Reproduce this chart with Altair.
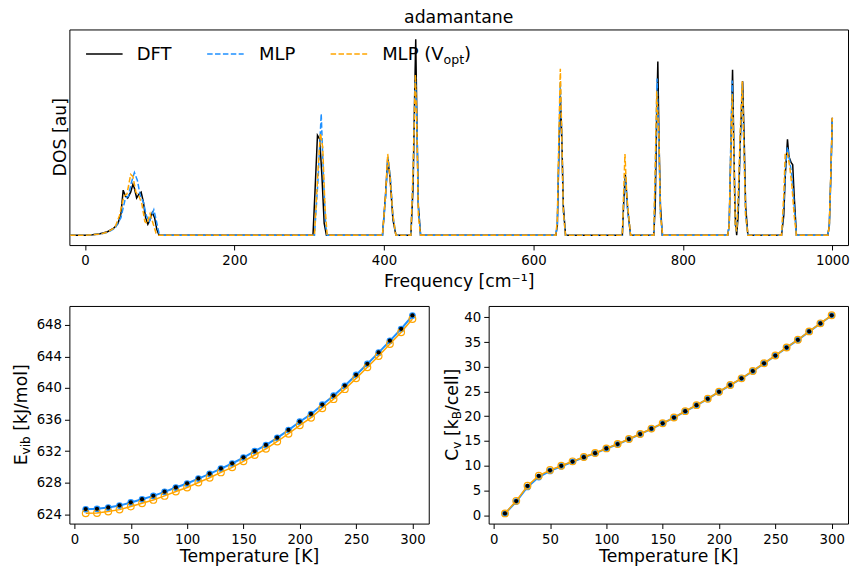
import altair as alt
import pandas as pd

# ---------------- DOS data (top panel) ----------------
dft_freq = [-20, 0, 10, 20, 30, 38, 44, 48, 51, 54, 57, 61, 64, 66, 69, 72, 75, 78, 81, 84, 87, 90, 93, 96, 99,
            305, 308, 311, 314, 317, 320, 323,
            398, 402, 405, 408, 412, 416,
            436, 439, 441, 442.5, 444, 446, 449,
            630, 632, 634, 636, 638, 640, 643,
            719, 721, 723, 726, 730,
            761, 763, 765, 766.5, 768, 770, 772.5,
            860, 862, 864, 866.5, 868, 870, 872, 874, 877, 880, 882, 884, 887,
            932, 935, 937, 940, 942, 945, 947, 949, 952,
            994, 996, 998, 1000]
dft_dos = [0, 0, 0.003, 0.008, 0.018, 0.035, 0.06, 0.11, 0.23, 0.2, 0.19, 0.22, 0.26, 0.24, 0.19, 0.21, 0.22, 0.17, 0.09, 0.056, 0.08, 0.116, 0.09, 0.03, 0,
           0, 0.25, 0.51, 0.49, 0.3, 0.06, 0,
           0, 0.2, 0.39, 0.3, 0.08, 0,
           0, 0.25, 0.7, 1.0, 0.6, 0.15, 0,
           0, 0.05, 0.4, 0.71, 0.5, 0.15, 0,
           0, 0.18, 0.31, 0.14, 0,
           0, 0.15, 0.6, 0.887, 0.5, 0.15, 0,
           0, 0.05, 0.4, 0.845, 0.5, 0.1, 0, 0.1, 0.5, 0.786, 0.5, 0.15, 0,
           0, 0.1, 0.3, 0.49, 0.4, 0.37, 0.36, 0.2, 0,
           0, 0.05, 0.3, 0.6]

mlp_freq = [-20, 0, 20, 30, 40, 48, 54, 58, 62, 66, 70, 74, 78, 82, 86, 89, 92, 95, 99, 102,
            307, 312, 316, 319, 322, 324,
            398, 402, 405.5, 409, 412, 416,
            436, 439, 442, 444, 446, 449,
            630, 632, 634, 636, 638, 640, 643,
            719, 721, 723, 726, 730,
            761, 763, 765.5, 768, 770, 773,
            860, 862, 864, 866, 868, 870, 872, 874, 877, 879.5, 882, 884, 887,
            932, 935, 937.5, 940, 943, 946, 949, 952,
            994, 996, 998, 1000]
mlp_dos = [0, 0, 0.006, 0.015, 0.035, 0.09, 0.19, 0.2, 0.27, 0.32, 0.28, 0.2, 0.17, 0.1, 0.07, 0.1, 0.13, 0.08, 0.01, 0,
           0, 0.3, 0.62, 0.3, 0.05, 0,
           0, 0.18, 0.40, 0.28, 0.1, 0,
           0, 0.3, 0.81, 0.6, 0.15, 0,
           0, 0.06, 0.45, 0.78, 0.5, 0.12, 0,
           0, 0.2, 0.3, 0.13, 0,
           0, 0.3, 0.8, 0.45, 0.1, 0,
           0, 0.05, 0.45, 0.79, 0.5, 0.05, 0.02, 0.15, 0.5, 0.77, 0.4, 0.1, 0,
           0, 0.15, 0.35, 0.45, 0.38, 0.3, 0.15, 0,
           0, 0.05, 0.3, 0.58]

vopt_freq = [-20, 0, 20, 30, 40, 46, 52, 56, 61, 64, 68, 72, 76, 80, 83, 87, 91, 95, 99,
             307, 312, 315, 318, 321, 324,
             398, 402, 405, 408, 412, 416,
             436, 439, 442, 444, 446, 449,
             630, 632, 634, 636, 638, 640, 643,
             719, 721, 722.5, 725, 730,
             761, 763, 765, 768, 770, 773,
             860, 862, 864, 866, 868, 870, 872, 874, 877, 879.5, 882, 884, 887,
             932, 935, 937, 940, 943, 946, 949, 952,
             994, 996, 998, 1000]
vopt_dos = [0, 0, 0.006, 0.016, 0.04, 0.1, 0.2, 0.21, 0.31, 0.3, 0.22, 0.2, 0.16, 0.07, 0.06, 0.11, 0.06, 0.01, 0,
            0, 0.35, 0.52, 0.45, 0.15, 0,
            0, 0.2, 0.415, 0.3, 0.1, 0,
            0, 0.35, 0.82, 0.55, 0.1, 0,
            0, 0.08, 0.5, 0.85, 0.5, 0.12, 0,
            0, 0.25, 0.415, 0.2, 0,
            0, 0.35, 0.735, 0.5, 0.1, 0,
            0, 0.05, 0.4, 0.72, 0.45, 0.05, 0.02, 0.2, 0.55, 0.785, 0.4, 0.1, 0,
            0, 0.2, 0.42, 0.42, 0.35, 0.25, 0.1, 0,
            0, 0.05, 0.32, 0.6]

# ---------------- thermodynamics (bottom panels) ----------------
temps = [10, 20, 30, 40, 50, 60, 70, 80, 90, 100, 110, 120, 130, 140, 150,
         160, 170, 180, 190, 200, 210, 220, 230, 240, 250, 260, 270, 280, 290, 300]
evib_dft = [624.64, 624.68, 624.85, 625.1, 625.5, 625.9, 626.33, 626.84, 627.39, 627.9, 628.53, 629.13, 629.8, 630.44, 631.2,
            632.0, 632.77, 633.7, 634.68, 635.74, 636.7, 637.9, 639.04, 640.3, 641.67, 643.07, 644.5, 646.0, 647.5, 649.2]
evib_mlp = [624.62, 624.67, 624.83, 625.08, 625.48, 625.88, 626.31, 626.82, 627.37, 627.88, 628.51, 629.11, 629.78, 630.42, 631.18,
            631.98, 632.75, 633.68, 634.66, 635.72, 636.68, 637.88, 639.02, 640.28, 641.65, 643.05, 644.48, 645.98, 647.48, 649.18]
evib_vopt = [624.1, 624.15, 624.32, 624.57, 624.97, 625.37, 625.8, 626.31, 626.86, 627.38, 628.01, 628.61, 629.29, 629.93, 630.7,
             631.5, 632.28, 633.21, 634.2, 635.26, 636.23, 637.43, 638.58, 639.85, 641.22, 642.63, 644.06, 645.57, 647.07, 648.75]
cv_dft = [0.34, 2.85, 5.9, 7.93, 9.08, 9.97, 10.85, 11.73, 12.54, 13.49, 14.37, 15.39, 16.41, 17.49, 18.58,
          19.73, 21.02, 22.24, 23.53, 24.95, 26.31, 27.66, 29.15, 30.71, 32.27, 33.9, 35.46, 37.15, 38.78, 40.4]
cv_mlp = [0.3, 2.75, 5.7, 7.7, 8.95, 9.9, 10.8, 11.7, 12.5, 13.45, 14.33, 15.35, 16.38, 17.46, 18.55,
          19.7, 20.99, 22.21, 23.5, 24.92, 26.28, 27.63, 29.12, 30.68, 32.24, 33.87, 35.43, 37.12, 38.75, 40.37]
cv_vopt = [0.36, 2.9, 5.95, 7.98, 9.12, 10.0, 10.88, 11.75, 12.56, 13.5, 14.38, 15.4, 16.42, 17.5, 18.59,
           19.74, 21.03, 22.25, 23.54, 24.96, 26.32, 27.67, 29.16, 30.72, 32.28, 33.91, 35.47, 37.16, 38.79, 40.41]

freq_ticks = [0, 200, 400, 600, 800, 1000]
temp_ticks = [0, 50, 100, 150, 200, 250, 300]
evib_ticks = [624, 628, 632, 636, 640, 644, 648]
cv_ticks = [0, 5, 10, 15, 20, 25, 30, 35, 40]

# ---------------- styling ----------------
FONT = "DejaVu Sans"
BIG = 17.3
SUB = 12.1
LEG = 18.0
LEGSUB = 12.6
BLUE = "#1E90FF"
ORANGE = "#FFA500"
DASH = [5.5, 2.4]
SPACE = 5.5
one = pd.DataFrame({"k": [0]})


def txt(s, x, y, size=BIG, angle=0, align="left"):
    return alt.Chart(one).mark_text(text=s, font=FONT, fontSize=size, color="black",
                                    align=align, baseline="alphabetic", angle=angle).encode(
        x=alt.value(x), y=alt.value(y))


# ---------------- top panel ----------------
fx = alt.X("f:Q", scale=alt.Scale(domain=[-21, 1021], nice=False, zero=False),
           axis=alt.Axis(values=freq_ticks, format="d", title="Frequency [cm⁻¹]",
                         titleY=41.3, titleBaseline="alphabetic", labelPadding=4))
fy = alt.Y("d:Q", scale=alt.Scale(domain=[-0.05, 1.05], nice=False, zero=False), axis=None)


def dos_line(freq, dos, color, dash=None):
    df = pd.DataFrame({"f": freq, "d": dos})
    kw = dict(color=color, strokeWidth=1.5, clip=True)
    if dash:
        kw["strokeDash"] = dash
    return alt.Chart(df).mark_line(**kw).encode(x=fx, y=fy, order="f:Q")


def leg_rule(x1, x2, y, color, dash=None):
    kw = dict(color=color, strokeWidth=1.5)
    if dash:
        kw["strokeDash"] = dash
    return alt.Chart(one).mark_rule(**kw).encode(x=alt.value(x1), x2=alt.value(x2), y=alt.value(y))


TW = 780
top = alt.layer(
    dos_line(dft_freq, dft_dos, "black"),
    dos_line(mlp_freq, mlp_dos, BLUE, DASH),
    dos_line(vopt_freq, vopt_dos, ORANGE, DASH),
    leg_rule(16.7, 53.3, 24.7, "black"),
    txt("DFT", 67.5, 31, LEG),
    leg_rule(138, 174.6, 24.7, BLUE, DASH),
    txt("MLP", 190, 31, LEG),
    leg_rule(261.7, 298.3, 24.7, ORANGE, DASH),
    txt("MLP (V", 313.3, 31, LEG),
    txt("opt", 313.3 + 61.5, 34.7, LEGSUB),
    txt(")", 313.3 + 61.5 + 20.6, 31, LEG),
    txt("adamantane", TW / 2, -6.3, align="center"),
    txt("DOS [au]", -3.5, 108, angle=270, align="center"),
).properties(width=TW, height=216)

# ---------------- bottom panels ----------------
tx = alt.X("T:Q", scale=alt.Scale(domain=[-4.5, 314.5], nice=False, zero=False),
           axis=alt.Axis(values=temp_ticks, format="d", title="Temperature [K]",
                         titleY=38.3, titleBaseline="alphabetic", labelPadding=4))


def thermo_layers(vals_mlp, vals_vopt, vals_dft, ydom, yticks):
    vy = alt.Y("v:Q", scale=alt.Scale(domain=ydom, nice=False, zero=False),
               axis=alt.Axis(values=yticks, format="d", title=None, labelPadding=3))
    dm = pd.DataFrame({"T": temps, "v": vals_mlp})
    dv = pd.DataFrame({"T": temps, "v": vals_vopt})
    dd = pd.DataFrame({"T": temps, "v": vals_dft})
    return [
        alt.Chart(dm).mark_line(color=BLUE, strokeWidth=2).encode(x=tx, y=vy),
        alt.Chart(dm).mark_point(filled=True, color=BLUE, size=45, opacity=1).encode(x=tx, y=vy),
        alt.Chart(dv).mark_line(color=ORANGE, strokeWidth=1.5).encode(x=tx, y=vy),
        alt.Chart(dv).mark_point(filled=False, color=ORANGE, size=45, strokeWidth=1.2, opacity=1).encode(x=tx, y=vy),
        alt.Chart(dd).mark_circle(color="black", size=18, opacity=1).encode(x=tx, y=vy),
    ]


BW = 360
X0L = -42.5
yc = 109
s1 = yc + 50.65
left = alt.layer(
    *thermo_layers(evib_mlp, evib_vopt, evib_dft, [622.8, 650.4], evib_ticks),
    txt("E", X0L, s1, angle=270),
    txt("vib", X0L + 3.5, s1 - 10.9, SUB, angle=270),
    txt("[kJ/mol]", X0L, s1 - 10.9 - 18.2 - SPACE, angle=270),
).properties(width=BW, height=218)

X0R = -30.8
s2 = yc + 46.15
right = alt.layer(
    *thermo_layers(cv_mlp, cv_vopt, cv_dft, [-1.7, 42.3], cv_ticks),
    txt("C", X0R, s2, angle=270),
    txt("v", X0R + 3.5, s2 - 12.1, SUB, angle=270),
    txt("[k", X0R, s2 - 19.3 - SPACE, angle=270),
    txt("B", X0R + 3.5, s2 - 41.6, SUB, angle=270),
    txt("/cell]", X0R, s2 - 49.9, angle=270),
).properties(width=BW, height=218)

bottom = alt.hconcat(left, right, spacing=60, bounds="flush")

chart = alt.vconcat(top, bottom, spacing=61, bounds="flush").properties(
    padding={"left": 4.5, "top": 0, "right": 0, "bottom": 0}
).configure_view(stroke="black", strokeWidth=1).configure_axis(
    domain=False, grid=False, ticks=True, tickColor="black", tickSize=4.9, tickWidth=1,
    labelFont=FONT, labelFontSize=13.3, labelColor="black",
    titleFont=FONT, titleFontSize=BIG, titleFontWeight="normal", titleColor="black"
)

chart.save("out.html", embed_options={"renderer": "svg", "actions": False})
